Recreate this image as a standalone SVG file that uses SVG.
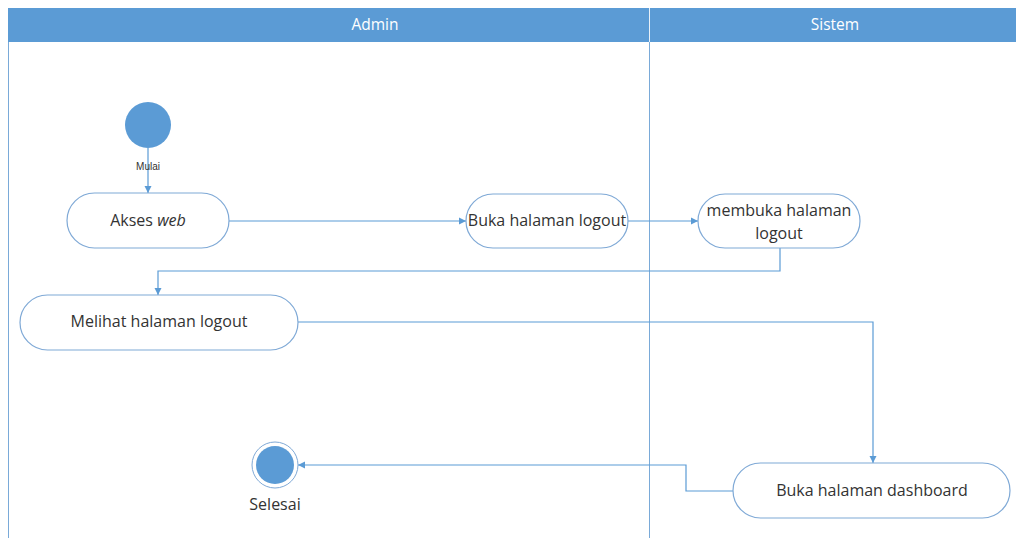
<svg xmlns="http://www.w3.org/2000/svg" width="1016" height="538" viewBox="0 0 1016 538">
  <defs>
    <marker id="arrow" markerWidth="8" markerHeight="8" refX="7" refY="4" orient="auto" markerUnits="userSpaceOnUse">
      <path d="M0,0.5 L7,4 L0,7.5 Z" fill="#5b9bd5"/>
    </marker>
    <style>
      .lane { fill: none; stroke: #7aaad8; stroke-width: 1; }
      .head { fill: #5b9bd5; }
      .headtext { font-family: "Open Sans", "Noto Sans", sans-serif; font-size: 15.5px; fill: #ffffff; text-anchor: middle; }
      .act { fill: #ffffff; stroke: #7fa9d6; stroke-width: 1.2; }
      .label { font-family: "Open Sans", "Noto Sans", sans-serif; font-size: 16px; fill: #333333; text-anchor: middle; }
      .small { font-family: "Liberation Sans", Arial, sans-serif; font-size: 10px; fill: #333333; text-anchor: middle; }
      .conn { fill: none; stroke: #5b9bd5; stroke-width: 1.2; }
      .dot { fill: #5b9bd5; }
    </style>
  </defs>

  <rect x="0" y="0" width="1016" height="538" fill="#ffffff"/>

  <!-- swimlanes -->
  <g id="lanes">
    <line class="lane" x1="8.5" y1="42" x2="8.5" y2="538"/>
    <line class="lane" x1="649.5" y1="8" x2="649.5" y2="538"/>
    <rect class="head" x="8" y="8" width="1008" height="34"/>
    <line x1="649.5" y1="8" x2="649.5" y2="42" stroke="#e8f0f8" stroke-width="1"/>
    <text class="headtext" x="375" y="30">Admin</text>
    <text class="headtext" x="835" y="30">Sistem</text>
  </g>

  <!-- connectors -->
  <g id="connectors">
    <line class="conn" x1="148" y1="148" x2="148" y2="193" marker-end="url(#arrow)"/>
    <line class="conn" x1="229" y1="221" x2="466" y2="221" marker-end="url(#arrow)"/>
    <line class="conn" x1="628" y1="221" x2="698" y2="221" marker-end="url(#arrow)"/>
    <polyline class="conn" points="780,248 780,271 158,271 158,295" marker-end="url(#arrow)"/>
    <polyline class="conn" points="298,322 873,322 873,463" marker-end="url(#arrow)"/>
    <polyline class="conn" points="733,491 686,491 686,465 298,465" marker-end="url(#arrow)"/>
  </g>

  <!-- start node -->
  <g id="start">
    <circle class="dot" cx="148" cy="125" r="23"/>
    <text class="small" x="148" y="170">Mulai</text>
  </g>

  <g id="akses-web">
    <rect class="act" x="67" y="193" width="162" height="55" rx="27.5"/>
    <text class="label" x="148" y="226">Akses <tspan font-style="italic">web</tspan></text>
  </g>

  <g id="buka-logout">
    <rect class="act" x="466" y="194" width="162" height="54" rx="27"/>
    <text class="label" x="547" y="226">Buka halaman logout</text>
  </g>

  <g id="membuka-logout">
    <rect class="act" x="698" y="194" width="162" height="54" rx="27"/>
    <text class="label" x="779" y="216">membuka halaman</text>
    <text class="label" x="779" y="239">logout</text>
  </g>

  <g id="melihat-logout">
    <rect class="act" x="20" y="295" width="278" height="55" rx="27.5"/>
    <text class="label" x="159" y="327">Melihat halaman logout</text>
  </g>

  <g id="buka-dashboard">
    <rect class="act" x="733" y="463" width="277" height="55" rx="27.5"/>
    <text class="label" x="872" y="496">Buka halaman dashboard</text>
  </g>

  <!-- end node -->
  <g id="end">
    <circle cx="275" cy="465" r="23" fill="#ffffff" stroke="#7fa9d6" stroke-width="1"/>
    <circle class="dot" cx="275" cy="465" r="19"/>
    <text class="label" x="275" y="510">Selesai</text>
  </g>
</svg>
